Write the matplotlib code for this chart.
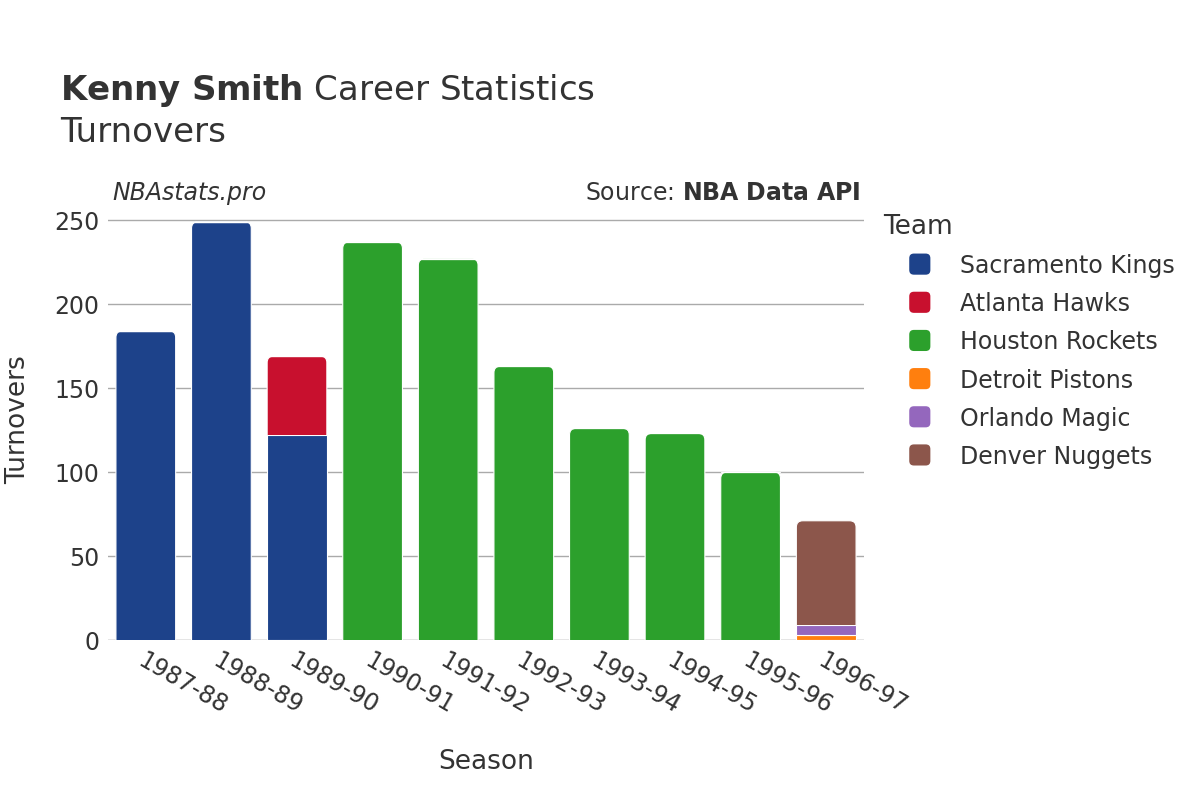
import numpy as np
import matplotlib.pyplot as plt
from matplotlib.patches import FancyBboxPatch, Rectangle
from matplotlib.legend_handler import HandlerPatch

seasons = ['1987-88', '1988-89', '1989-90', '1990-91', '1991-92',
           '1992-93', '1993-94', '1994-95', '1995-96', '1996-97']
teams = ['Sacramento Kings', 'Atlanta Hawks', 'Houston Rockets',
         'Detroit Pistons', 'Orlando Magic', 'Denver Nuggets']
colors = ['#1d428a', '#c8102e', '#2ca02c', '#ff7f0e', '#9467bd', '#8c564b']

sac = [184, 249, 122, 0, 0, 0, 0, 0, 0, 0]
atl = [0, 0, 47, 0, 0, 0, 0, 0, 0, 0]
hou = [0, 0, 0, 237, 227, 163, 126, 123, 100, 0]
det = [0, 0, 0, 0, 0, 0, 0, 0, 0, 3]
orl = [0, 0, 0, 0, 0, 0, 0, 0, 0, 6]
den = [0, 0, 0, 0, 0, 0, 0, 0, 0, 62]
values = [sac, atl, hou, det, orl, den]

txt = '#333333'
fig = plt.figure(figsize=(12, 8), dpi=100)
ax = fig.add_axes([0.09, 0.2, 0.63, 0.55])
ax.set_xlim(-0.5, len(seasons) - 0.5)
ax.set_ylim(0, 262)

# aspect so rounded corners look round in pixels
fig.canvas.draw()
bb = ax.get_window_extent()
px_x = bb.width / len(seasons)
px_y = bb.height / 262
aspect = px_x / px_y

x = np.arange(len(seasons))
bw = 0.79
totals = np.sum(values, axis=0)
bottom = np.zeros(len(seasons))
for team, col, vals in zip(teams, colors, values):
    vals = np.array(vals, dtype=float)
    bars = ax.bar(x, vals, bw, bottom=bottom, color=col, edgecolor='white',
                  linewidth=0.8, label=team, zorder=3)
    for i, b in enumerate(bars):
        if vals[i] > 0 and bottom[i] + vals[i] == totals[i]:
            # top segment: round the upper corners
            b.set_visible(False)
            r = 0.085
            p = FancyBboxPatch((x[i] - bw / 2, bottom[i] - 10), bw,
                               vals[i] + 10,
                               boxstyle='round,pad=0,rounding_size=%g' % r,
                               mutation_aspect=aspect, facecolor=col,
                               edgecolor='white', linewidth=0.8, zorder=3)
            ax.add_patch(p)
            clip = Rectangle((x[i] - bw / 2 - 0.05, bottom[i]), bw + 0.1,
                             vals[i] + 5, transform=ax.transData)
            p.set_clip_path(clip)
    bottom += vals

ax.set_yticks([0, 50, 100, 150, 200, 250])
ax.grid(axis='y', color='#aaaaaa', linewidth=1, zorder=0)
ax.axhline(0, color='#e5e5e5', linewidth=2, zorder=2)
for s in ax.spines.values():
    s.set_visible(False)
ax.tick_params(length=0, labelsize=17, colors=txt, pad=6)
ax.set_xticks(x)
ax.set_xticklabels(seasons, rotation=-30, ha='left', va='top',
                   rotation_mode='anchor')
ax.set_xlabel('Season', fontsize=19, color=txt, labelpad=22)
ax.set_ylabel('Turnovers', fontsize=19, color=txt, va='center')
ax.yaxis.set_label_coords((18 - 108) / 756, 0.5)

fig.text(0.05, 0.875, r'$\bf{Kenny\ Smith}$ Career Statistics', fontsize=24.5,
         color=txt, va='baseline')
fig.text(0.05, 0.822, 'Turnovers', fontsize=24.5, color=txt, va='baseline')
fig.text(0.094, 0.75, 'NBAstats.pro', fontsize=17, color=txt,
         style='italic', va='baseline')
fig.text(0.717, 0.75, r'Source: $\bf{NBA\ Data\ API}$', fontsize=17,
         color=txt, ha='right', va='baseline')


class RoundHandler(HandlerPatch):
    def create_artists(self, legend, orig, xd, yd, w, h, fs, trans):
        s = min(w, h) * 1.0
        p = FancyBboxPatch((xd + (w - s) / 2, yd + (h - s) / 2 - 3), s, s,
                           boxstyle='round,pad=0,rounding_size=%g' % (s * 0.22),
                           facecolor=orig.get_facecolor(), edgecolor='none',
                           transform=trans)
        return [p]


handles = [Rectangle((0, 0), 1, 1, facecolor=c) for c in colors]
fig.text(883 / 1200, 1 - 227 / 800, 'Team', fontsize=19, color=txt,
         va='center')
leg = fig.legend(handles, teams, loc='upper left',
                 bbox_to_anchor=(908 / 1200, 1 - 254 / 800),
                 frameon=False, fontsize=17, borderaxespad=0, borderpad=0,
                 handlelength=1.0, handleheight=1.0, handletextpad=1.2,
                 labelspacing=0.6, labelcolor=txt,
                 handler_map={Rectangle: RoundHandler()})

fig.savefig('out.png', dpi=100)
